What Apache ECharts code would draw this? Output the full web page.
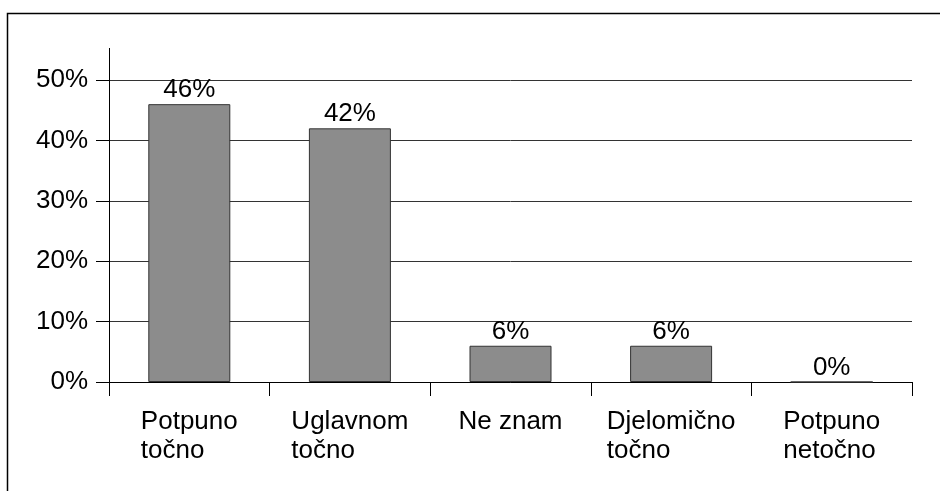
<!DOCTYPE html>
<html>
<head>
<meta charset="utf-8">
<script src="https://cdn.jsdelivr.net/npm/echarts@6/dist/echarts.min.js"></script>
<style>
  html, body { margin: 0; padding: 0; background: #fff; }
  #chart { width: 940px; height: 491px; }
</style>
</head>
<body>
<div id="chart"></div>
<script>
// odgovori i postoci
const categories = ['Potpuno\ntočno', 'Uglavnom\ntočno', 'Ne znam', 'Djelomično\ntočno', 'Potpuno\nnetočno']
const values = [46, 42, 6, 6, 0]
const yTicks = [0, 10, 20, 30, 40, 50]

let myChart = echarts.init(document.getElementById('chart'))
const font = '"Liberation Sans", Arial, sans-serif'

myChart.setOption({
  animation: false,
  grid: { left: 109, right: 28, top: 80, bottom: 109 },
  graphic: [
    // okvir oko grafikona
    { type: 'rect', shape: { x: 7.5, y: 13.5, width: 1000, height: 600 },
      style: { fill: 'none', stroke: '#000', lineWidth: 1.5 }, silent: true },
    // produzetak osi y iznad 50%
    { type: 'line', shape: { x1: 109.5, y1: 48, x2: 109.5, y2: 80 },
      style: { stroke: '#000', lineWidth: 1 }, silent: true }
  ],
  xAxis: {
    type: 'category',
    data: categories,
    axisLine: { lineStyle: { color: '#000', width: 1 } },
    axisTick: { show: true, interval: 0, length: 14, lineStyle: { color: '#000' } },
    axisLabel: {
      interval: 0,
      margin: 25,
      fontFamily: font,
      fontSize: 26,
      color: '#000',
      align: 'center',
      formatter: (v) => v.split('\n').map(s => '{l|' + s + '}').join('\n'),
      rich: { l: { align: 'left', fontFamily: font, fontSize: 26, lineHeight: 29, color: '#000' } }
    }
  },
  yAxis: {
    type: 'value',
    min: yTicks[0],
    max: yTicks[yTicks.length - 1],
    interval: 10,
    axisLine: { show: true, lineStyle: { color: '#000', width: 1 } },
    axisTick: { show: true, length: 13, lineStyle: { color: '#000' } },
    splitLine: { lineStyle: { color: '#333', width: 1 } },
    axisLabel: {
      margin: 21,
      fontFamily: font,
      fontSize: 26,
      color: '#000',
      formatter: '{value}%'
    }
  },
  series: [
    {
      type: 'bar',
      data: values,
      barWidth: 82,
      itemStyle: { color: '#8c8c8c', borderColor: '#333', borderWidth: 1 },
      label: {
        show: true,
        position: 'top',
        distance: 1,
        fontFamily: font,
        fontSize: 26,
        color: '#000',
        formatter: '{c}%'
      }
    }
  ]
})
</script>
</body>
</html>
